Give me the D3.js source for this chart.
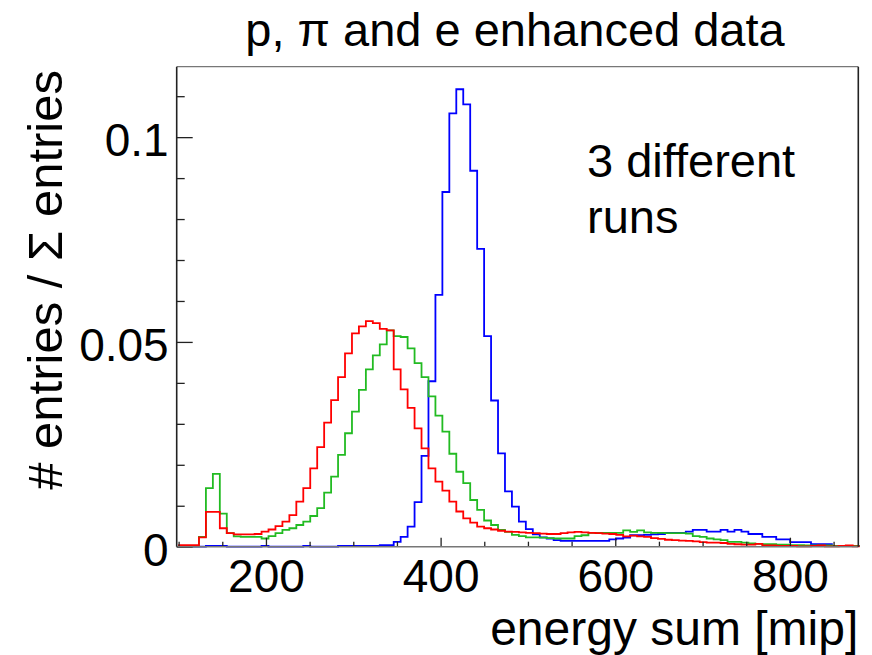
<!DOCTYPE html>
<html>
<head>
<meta charset="utf-8">
<script src="https://cdn.jsdelivr.net/npm/d3@7"></script>
<style>
  html, body { margin: 0; padding: 0; background: #fff; }
  svg text { font-family: "Liberation Sans", Arial, Helvetica, sans-serif; fill: #000; }
</style>
</head>
<body>
<div id="chart"></div>
<script>
// ---------- data ----------
const binStart = 99.4;   // lower edge of first bin [mip]
const binWidth = 7.964;  // bin width [mip]

const redValues = [
  0.0004, 0.0004, 0.0004, 0.0023, 0.0085, 0.0085, 0.0045, 0.0033, 0.0030, 0.0030,
  0.0030, 0.0031, 0.0037, 0.0042, 0.0050, 0.0061, 0.0077, 0.0110, 0.0143, 0.0191,
  0.0243, 0.0303, 0.0358, 0.0414, 0.0472, 0.0521, 0.0538, 0.0551, 0.0546, 0.0532,
  0.0528, 0.0433, 0.0384, 0.0339, 0.0289, 0.0240, 0.0191, 0.0159, 0.0137, 0.0110,
  0.0086, 0.0069, 0.0059, 0.0049, 0.0045, 0.0042, 0.0039, 0.0037, 0.0036, 0.0035,
  0.0034, 0.0033, 0.0032, 0.0031, 0.0031, 0.0033, 0.0035, 0.0036, 0.0035, 0.0034,
  0.0033, 0.0032, 0.0031, 0.0029, 0.0025, 0.0027, 0.0025, 0.0024, 0.0021, 0.0019,
  0.0017, 0.0016, 0.0015, 0.0014, 0.0013, 0.0011, 0.0010, 0.0010, 0.0009, 0.0007,
  0.0006, 0.0005, 0.0005, 0.0007, 0.0003, 0.0003, 0.0002, 0.0002, 0.0002, 0.0001,
  0.0001, 0.0002, 0.0003, 0.0001, 0.0001, 0.0002, 0.0003, 0.0001
];

const greenValues = [
  0.0001, 0.0001, 0.0001, 0.0024, 0.0143, 0.0178, 0.0081, 0.0033, 0.0025, 0.0024,
  0.0024, 0.0024, 0.0020, 0.0026, 0.0033, 0.0041, 0.0045, 0.0053, 0.0061, 0.0075,
  0.0094, 0.0132, 0.0171, 0.0224, 0.0277, 0.0330, 0.0383, 0.0433, 0.0467, 0.0494,
  0.0528, 0.0514, 0.0512, 0.0484, 0.0448, 0.0414, 0.0367, 0.0320, 0.0281, 0.0227,
  0.0183, 0.0155, 0.0114, 0.0090, 0.0064, 0.0053, 0.0041, 0.0036, 0.0029, 0.0026,
  0.0023, 0.0023, 0.0022, 0.0021, 0.0020, 0.0020, 0.0020, 0.0026, 0.0028, 0.0034,
  0.0034, 0.0034, 0.0034, 0.0034, 0.0040, 0.0036, 0.0040, 0.0035, 0.0034, 0.0034,
  0.0033, 0.0033, 0.0033, 0.0032, 0.0026, 0.0024, 0.0020, 0.0018, 0.0016, 0.0012,
  0.0012, 0.0010, 0.0008, 0.0007, 0.0006, 0.0006, 0.0005, 0.0005, 0.0004, 0.0004,
  0.0003, 0.0003, 0.0003, 0.0003, 0.0002, 0.0002, 0.0002, 0.0002
];

const blueValues = [
  0.0000, 0.0000, 0.0000, 0.0000, 0.0002, 0.0002, 0.0002, 0.0000, 0.0000, 0.0000,
  0.0000, 0.0000, 0.0002, 0.0000, 0.0000, 0.0000, 0.0000, 0.0000, 0.0002, 0.0000,
  0.0000, 0.0000, 0.0000, 0.0002, 0.0002, 0.0002, 0.0002, 0.0002, 0.0002, 0.0004,
  0.0004, 0.0012, 0.0024, 0.0049, 0.0109, 0.0222, 0.0404, 0.0615, 0.0866, 0.1058,
  0.1117, 0.1080, 0.0918, 0.0727, 0.0514, 0.0357, 0.0228, 0.0135, 0.0098, 0.0061,
  0.0043, 0.0030, 0.0023, 0.0020, 0.0016, 0.0014, 0.0014, 0.0014, 0.0014, 0.0014,
  0.0014, 0.0014, 0.0018, 0.0020, 0.0022, 0.0028, 0.0028, 0.0029, 0.0030, 0.0031,
  0.0034, 0.0034, 0.0034, 0.0037, 0.0041, 0.0041, 0.0037, 0.0037, 0.0041, 0.0037,
  0.0041, 0.0037, 0.0031, 0.0031, 0.0024, 0.0024, 0.0018, 0.0018, 0.0011, 0.0011,
  0.0011, 0.0006, 0.0006, 0.0006, 0.0002, 0.0002, 0.0002, 0.0002
];

const yMajorTicks = [0, 0.05, 0.1];
const yMajorLabels = ["0", "0.05", "0.1"];
const yMinorTicks = [0.01, 0.02, 0.03, 0.04, 0.06, 0.07, 0.08, 0.09, 0.11];
const xLabelTicks = [200, 400, 600, 800];
const xMinorTicks = [100, 150, 250, 300, 350, 450, 500, 550, 650, 700, 750, 850];

const titleText = "p, \u03C0 and e enhanced data";
const xTitle = "energy sum [mip]";
const yTitle = "# entries / \u03A3 entries";
const noteLines = ["3 different", "runs"];

// ---------- layout ----------
const W = 872, H = 655;
const plotL = 176.7, plotR = 858.3, plotT = 66.7, plotB = 546.7;

const svg = d3.select("#chart").append("svg")
  .attr("width", W).attr("height", H);

const x = d3.scaleLinear().domain([97.8, 878.3]).range([plotL, plotR]);
const y = d3.scaleLinear().domain([0, 0.1172]).range([plotB, plotT]);

// ---------- histograms ----------
function stepPath(values) {
  const p = d3.path();
  values.forEach((v, i) => {
    const lo = binStart + i * binWidth, hi = lo + binWidth;
    if (i === 0) p.moveTo(x(lo), y(v)); else p.lineTo(x(lo), y(v));
    p.lineTo(x(hi), y(v));
  });
  return p.toString();
}

const series = [
  { values: blueValues, color: "#0000ff" },
  { values: greenValues, color: "#22bb22" },
  { values: redValues, color: "#ff0000" }
];

svg.append("g").selectAll("path").data(series).join("path")
  .attr("d", d => stepPath(d.values))
  .attr("fill", "none")
  .attr("stroke", d => d.color)
  .attr("stroke-width", 1.8)
  .attr("stroke-linejoin", "miter");

// ---------- axes ----------
const yAxisMajor = d3.axisLeft(y).tickValues(yMajorTicks)
  .tickFormat((d, i) => yMajorLabels[i]).tickSizeInner(-16).tickSizeOuter(0).tickPadding(8);
const yAxisMinor = d3.axisLeft(y).tickValues(yMinorTicks)
  .tickFormat("").tickSizeInner(-8).tickSizeOuter(0);

const gyMin = svg.append("g").attr("transform", `translate(${plotL},0)`).call(yAxisMinor);
const gy = svg.append("g").attr("transform", `translate(${plotL},0)`).call(yAxisMajor);
[gy, gyMin].forEach(g => {
  g.select(".domain").remove();
  g.selectAll("line").attr("stroke", "#222").attr("stroke-width", 1.3);
});
gy.selectAll("text")
  .attr("font-size", 46)
  .attr("dy", "0.40em");

const xAxisLab = d3.axisBottom(x).tickValues(xLabelTicks)
  .tickFormat(d3.format("d")).tickSizeInner(-9).tickSizeOuter(0);
const xAxisMin = d3.axisBottom(x).tickValues(xMinorTicks).tickFormat("").tickSizeInner(-5).tickSizeOuter(0);

[xAxisMin, xAxisLab].forEach(ax => {
  const g = svg.append("g").attr("transform", `translate(0,${plotB})`).call(ax);
  g.select(".domain").remove();
  g.selectAll("line").attr("stroke", "#222").attr("stroke-width", 1.3);
  g.selectAll("text")
    .attr("font-size", 46)
    .attr("dy", null)
    .attr("y", 45);
});

// ---------- frame ----------
svg.append("line").attr("x1", plotL).attr("x2", plotR).attr("y1", plotB).attr("y2", plotB)
  .attr("stroke", "#777").attr("stroke-width", 1.5);
svg.append("line").attr("x1", plotL).attr("x2", plotR).attr("y1", plotT).attr("y2", plotT)
  .attr("stroke", "#777").attr("stroke-width", 1.3);
svg.append("line").attr("x1", plotL).attr("x2", plotL).attr("y1", plotT).attr("y2", plotB)
  .attr("stroke", "#222").attr("stroke-width", 1.6);
svg.append("line").attr("x1", plotR).attr("x2", plotR).attr("y1", plotT).attr("y2", plotB)
  .attr("stroke", "#222").attr("stroke-width", 1.6);

// ---------- texts ----------
svg.append("text")
  .attr("x", 515).attr("y", 46)
  .attr("text-anchor", "middle")
  .attr("font-size", 47)
  .text(titleText);

svg.append("text")
  .attr("x", plotR).attr("y", 645)
  .attr("text-anchor", "end")
  .attr("font-size", 48)
  .text(xTitle);

svg.append("text")
  .attr("transform", `translate(62,70) rotate(-90)`)
  .attr("text-anchor", "end")
  .attr("font-size", 49)
  .text(yTitle);

svg.append("g").selectAll("text").data(noteLines).join("text")
  .attr("x", 587)
  .attr("y", (d, i) => 176.7 + i * 56.6)
  .attr("font-size", 47)
  .text(d => d);
</script>
</body>
</html>
